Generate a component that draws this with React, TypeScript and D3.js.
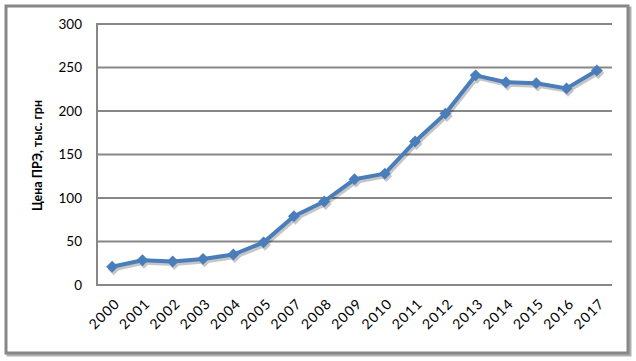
import { useEffect, useRef } from "react";
import * as d3 from "d3";

// categories (2006 is missing in the source)
const years = [
  "2000", "2001", "2002", "2003", "2004", "2005", "2007", "2008", "2009",
  "2010", "2011", "2012", "2013", "2014", "2015", "2016", "2017",
];
// price, thousand UAH
const prices = [21, 28.5, 27, 30, 35, 49, 79, 96, 121.5, 128, 165, 197, 241, 233, 232, 226, 246.5];
const yTicks = [0, 50, 100, 150, 200, 250, 300];
const yTitle = "Цена ПРЭ, тыс. грн";

const W = 636;
const H = 361;

function App() {
  const svgRef = useRef<SVGSVGElement>(null);

  useEffect(() => {
    const svg = d3.select(svgRef.current);
    svg.selectAll("*").remove();

    const left = 97, right = 612, top = 24, bottom = 285;
    const font = "Lato, 'Open Sans', sans-serif";

    // frame with a small shadow
    svg.append("rect")
      .attr("x", 8).attr("y", 8).attr("width", W - 14).attr("height", H - 14)
      .attr("fill", "none").attr("stroke", "#b0b0b0").attr("stroke-width", 3);
    svg.append("rect")
      .attr("x", 6).attr("y", 6).attr("width", W - 14).attr("height", H - 14)
      .attr("fill", "#fff").attr("stroke", "#878787").attr("stroke-width", 3);

    const x = d3.scaleBand<string>().domain(years).range([left, right]);
    const y = d3.scaleLinear().domain([0, 300]).range([bottom, top]);

    // gridlines
    svg.append("g")
      .selectAll("line")
      .data(yTicks)
      .join("line")
      .attr("x1", left).attr("x2", right)
      .attr("y1", (d) => y(d)).attr("y2", (d) => y(d))
      .attr("stroke", "#878787").attr("stroke-width", 2);

    // y axis line
    svg.append("line")
      .attr("x1", left).attr("x2", left)
      .attr("y1", top - 1).attr("y2", bottom + 1)
      .attr("stroke", "#878787").attr("stroke-width", 2);

    // y tick labels
    svg.append("g")
      .selectAll("text")
      .data(yTicks)
      .join("text")
      .attr("x", left - 15).attr("y", (d) => y(d))
      .attr("dy", "0.35em")
      .attr("text-anchor", "end")
      .attr("font-family", font).attr("font-size", 13.5)
      .attr("fill", "#000")
      .text((d) => d);

    // y title
    svg.append("text")
      .attr("transform", `translate(42,${(top + bottom) / 2 + 1}) rotate(-90)`)
      .attr("text-anchor", "middle")
      .attr("font-family", font).attr("font-size", 12.5).attr("font-weight", "bold")
      .attr("fill", "#000")
      .text(yTitle);

    // x tick labels
    const cx = (d: string) => (x(d) ?? 0) + x.bandwidth() / 2;
    svg.append("g")
      .selectAll("text")
      .data(years)
      .join("text")
      .attr("transform", (d) => `translate(${cx(d) + 5},${bottom + 16}) rotate(-45)`)
      .attr("text-anchor", "end")
      .attr("dy", "0.35em")
      .attr("font-family", font).attr("font-size", 14)
      .attr("letter-spacing", 1)
      .attr("fill", "#000")
      .text((d) => d);

    const pts = years.map((d, i) => [cx(d), y(prices[i])] as [number, number]);
    const line = d3.line();
    const diamond = d3.symbol().type(d3.symbolDiamond2).size(90);

    // shadow
    const sh = svg.append("g").attr("transform", "translate(1.5,2.5)").attr("opacity", 0.22);
    sh.append("path").attr("d", line(pts)).attr("fill", "none")
      .attr("stroke", "#000").attr("stroke-width", 4).attr("stroke-linejoin", "round");
    sh.selectAll("path.m").data(pts).join("path").attr("class", "m")
      .attr("transform", (p) => `translate(${p[0]},${p[1]})`)
      .attr("d", diamond()).attr("fill", "#000");

    svg.append("path").attr("d", line(pts)).attr("fill", "none")
      .attr("stroke", "#4a7ebb").attr("stroke-width", 4).attr("stroke-linejoin", "round");
    svg.append("g")
      .selectAll("path")
      .data(pts)
      .join("path")
      .attr("transform", (p) => `translate(${p[0]},${p[1]})`)
      .attr("d", diamond())
      .attr("fill", "#4a7ebb");
  }, []);

  return (
    <svg ref={svgRef} width={W} height={H} style={{ position: "absolute", left: 0, top: 0 }} />
  );
}

export default App;
